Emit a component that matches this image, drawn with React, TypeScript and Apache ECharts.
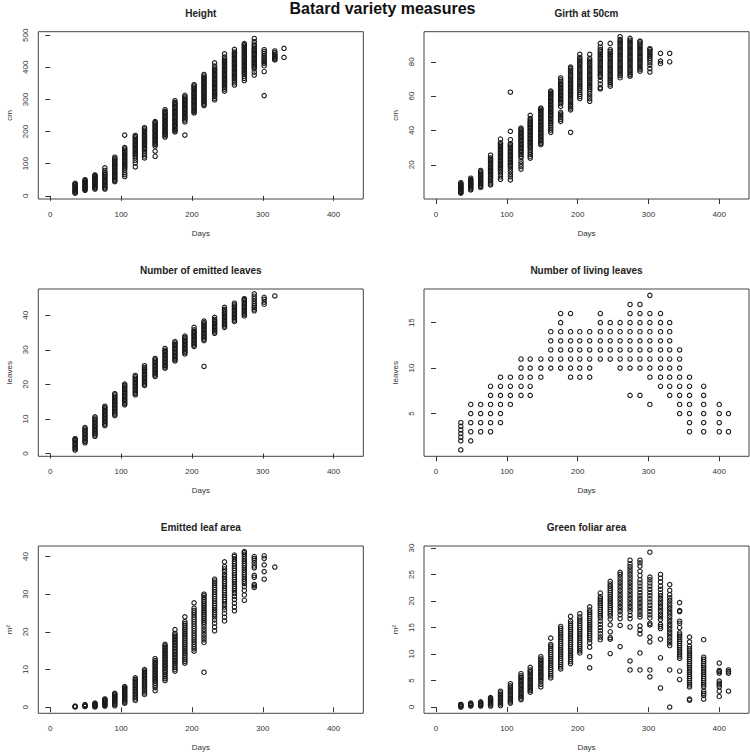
import React, { useEffect, useRef } from "react";
import * as echarts from "echarts";

const days = [35, 49, 63, 77, 91, 105, 120, 133, 148, 162, 176, 190, 203, 217, 232, 246, 260, 274, 288, 302, 317, 330, 344, 358, 378, 400, 413];

// Height (cm), one list per day
const heightCols = [
  [8, 10, 13, 16, 19, 22, 25, 28, 31, 34, 37, 39],
  [17, 20, 23, 26, 29, 32, 35, 38, 41, 44, 47, 50],
  [21, 24, 27, 30, 33, 36, 39, 42, 45, 48, 51, 54, 57, 60, 63, 65],
  [21, 24, 28, 32, 36, 40, 44, 48, 52, 56, 60, 64, 68, 72, 79, 87],
  [44, 48, 52, 56, 60, 64, 68, 72, 76, 80, 84, 88, 92, 96, 100, 104, 108, 112, 116, 120],
  [60, 66, 72, 80, 86, 90, 94, 98, 102, 106, 110, 114, 118, 122, 126, 130, 134, 138, 142, 146, 150, 189],
  [90, 102, 110, 118, 124, 128, 132, 136, 140, 144, 148, 152, 156, 160, 164, 168, 172, 176, 180, 184, 188],
  [118, 124, 130, 138, 144, 148, 152, 156, 160, 164, 168, 172, 176, 180, 184, 188, 192, 196, 200, 204, 208, 212],
  [123, 139, 155, 160, 164, 168, 172, 176, 180, 184, 188, 192, 196, 200, 204, 208, 212, 216, 220, 224, 228, 231],
  [183, 187, 191, 195, 199, 203, 207, 211, 215, 219, 223, 227, 231, 235, 239, 243, 247, 251, 255, 259, 263, 268],
  [199, 203, 207, 211, 215, 219, 223, 227, 231, 235, 239, 243, 247, 251, 255, 259, 263, 267, 271, 275, 279, 283, 287, 291, 296],
  [189, 230, 236, 240, 244, 248, 252, 256, 260, 264, 268, 272, 276, 280, 284, 288, 292, 296, 300, 304, 308, 313],
  [258, 262, 266, 270, 274, 278, 282, 286, 290, 294, 298, 302, 306, 310, 314, 318, 322, 326, 330, 334, 338, 342, 346],
  [281, 285, 289, 293, 297, 301, 305, 309, 313, 317, 321, 325, 329, 333, 337, 341, 345, 349, 353, 357, 361, 365, 369, 373, 378],
  [299, 304, 310, 314, 318, 322, 326, 330, 334, 338, 342, 346, 350, 354, 358, 362, 366, 370, 374, 378, 382, 386, 390, 394, 398, 404, 414],
  [326, 332, 337, 342, 346, 350, 354, 358, 362, 366, 370, 374, 378, 382, 386, 390, 394, 398, 402, 406, 410, 414, 418, 422, 426, 432, 442],
  [345, 352, 358, 364, 368, 372, 376, 380, 384, 388, 392, 396, 400, 404, 408, 412, 416, 420, 424, 428, 432, 436, 440, 444, 448, 456],
  [359, 366, 372, 378, 382, 386, 390, 394, 398, 402, 406, 410, 414, 418, 422, 426, 430, 434, 438, 442, 446, 450, 454, 458, 462, 466, 470, 474],
  [376, 385, 395, 400, 404, 408, 412, 416, 420, 424, 428, 432, 436, 440, 444, 448, 452, 456, 460, 466, 472, 480, 490],
  [312, 387, 405, 412, 417, 422, 427, 432, 437, 443, 449, 455],
  [423, 426, 429, 432, 435, 438, 441, 446, 451],
  [431, 459],
];

// Girth at 50cm (cm)
const girthCols = [
  [3.5, 4, 4.5, 5, 5.5, 6, 6.5, 7, 7.5, 8, 8.5, 9, 9.7],
  [5.4, 6, 6.6, 7.2, 7.8, 8.4, 9, 9.6, 10.2, 10.8, 11.4, 12.2],
  [6.8, 7.5, 8.2, 8.9, 9.6, 10.3, 11, 11.7, 12.4, 13.1, 13.8, 14.5, 15.2, 16, 16.7],
  [8.3, 9, 10, 11, 12, 12.8, 13.6, 14.4, 15.2, 16, 16.8, 17.6, 18.4, 19.2, 20, 20.8, 21.6, 22.4, 23.2, 24, 25.6],
  [11.6, 13, 14.5, 16, 17, 17.8, 18.6, 19.4, 20.2, 21, 21.8, 22.6, 23.4, 24.2, 25, 25.8, 26.6, 27.4, 28.2, 29, 29.8, 30.6, 31.4, 32.2, 32.7, 35],
  [11.2, 13, 14.5, 16, 17.5, 19, 19.8, 20.6, 21.4, 22.2, 23, 23.8, 24.6, 25.4, 26.2, 27, 27.8, 28.6, 29.4, 30.2, 31, 31.8, 32.3, 34.6, 39.5, 62.3],
  [17.5, 19, 20.5, 22, 24, 25, 26, 27, 27.8, 28.6, 29.4, 30.2, 31, 31.8, 32.6, 33.4, 34.2, 35, 35.8, 36.6, 37.4, 38.2, 39, 39.8, 40.6, 41.4],
  [23.9, 25, 26.2, 27.4, 28.6, 29.8, 30.6, 31.4, 32.2, 33, 33.8, 34.6, 35.4, 36.2, 37, 37.8, 38.6, 39.4, 40.2, 41, 41.8, 42.6, 43.4, 44.2, 45, 46, 47, 48.8],
  [31.7, 32.5, 33.3, 34.1, 34.9, 35.7, 36.5, 37.3, 38.1, 38.9, 39.7, 40.5, 41.3, 42.1, 42.9, 43.7, 44.5, 45.3, 46.1, 46.9, 47.7, 48.5, 49.3, 50.1, 50.9, 51.7, 52.5, 53],
  [38.9, 40.2, 41.5, 42.8, 44, 45, 46, 47, 48, 48.8, 49.6, 50.4, 51.2, 52, 52.8, 53.6, 54.4, 55.2, 56, 56.8, 57.6, 58.4, 59.2, 60, 60.8, 61.6, 62.4, 62.9],
  [45.3, 46.5, 47.5, 48.5, 49.5, 50.5, 54, 55.5, 56.3, 57.1, 57.9, 58.7, 59.5, 60.3, 61.1, 61.9, 62.7, 63.5, 64.3, 65.1, 65.9, 66.7, 67.5, 68.5, 69.5, 70.6],
  [38.9, 52, 53, 54, 55, 56, 57, 58, 59, 60, 61, 61.8, 62.6, 63.4, 64.2, 65, 65.8, 66.6, 67.4, 68.2, 69, 70, 71, 72, 73, 74, 75, 76, 76.9],
  [58.6, 59.8, 61, 62.2, 63.5, 64.5, 65.5, 66.5, 67.5, 68.5, 69.5, 70.5, 71.5, 72.5, 73.5, 74.5, 75.5, 76.5, 77.5, 78.5, 79.5, 80.5, 81.5, 82.5, 84.3],
  [57, 58.5, 60, 61.5, 63, 64, 65, 66, 67, 68, 69, 70, 71, 72, 73, 74, 75, 76, 77, 78, 79, 80, 81, 82, 84.3],
  [64.2, 65, 67, 69, 71, 72, 73, 74, 75, 76, 77, 78, 79, 80, 81, 82, 83, 84, 85, 86, 87, 88.5, 90.7],
  [65.8, 67, 68, 69, 70, 71, 72, 73, 74, 75, 76, 77, 78, 79, 80, 81, 82, 83, 84, 85, 86, 87, 90.7],
  [70.7, 72, 73, 74, 75, 76, 77, 78, 79, 80, 81, 82, 83, 84, 85, 86, 87, 88, 89, 90, 91, 92, 93, 94.6],
  [71.6, 72.5, 73.5, 74.5, 75.5, 76.5, 77.5, 78.5, 79.5, 80.5, 81.5, 82.5, 83.5, 84.5, 85.5, 86.5, 87.5, 88.5, 89.5, 90.5, 91.5, 92.5, 93.6],
  [74.5, 75.5, 76.5, 77.5, 78.5, 79.5, 80.5, 81.5, 82.5, 83.5, 84.5, 85.5, 86.5, 87.5, 88.5, 89.5, 90.5, 91.5, 92],
  [74, 76, 78, 79.5, 81, 82, 83, 84, 85, 86, 87, 87.6],
  [79, 80.4, 84.9],
  [80, 84.9],
];

// Number of emitted leaves
const emittedCols = [
  [1, 1.4, 1.8, 2.2, 2.6, 3, 3.4, 3.8, 4.1, 4.3],
  [3.1, 3.5, 3.9, 4.3, 4.7, 5.1, 5.5, 5.9, 6.3, 6.7, 7.1, 7.5],
  [5, 5.4, 5.8, 6.2, 6.6, 7, 7.4, 7.8, 8.2, 8.6, 9, 9.4, 9.8, 10.2, 10.6],
  [8.1, 8.5, 8.9, 9.3, 9.7, 10.1, 10.5, 10.9, 11.3, 11.7, 12.1, 12.5, 12.9, 13.3, 13.7],
  [11, 11.4, 11.8, 12.2, 12.6, 13, 13.4, 13.8, 14.2, 14.6, 15, 15.4, 15.8, 16.2, 16.6, 17, 17.3],
  [14.1, 14.5, 14.9, 15.3, 15.7, 16.1, 16.5, 16.9, 17.3, 17.7, 18.1, 18.5, 18.9, 19.3, 19.7, 20.1],
  [17, 17.4, 17.8, 18.2, 18.6, 19, 19.4, 19.8, 20.2, 20.6, 21, 21.4, 21.8, 22.2, 22.6],
  [19.7, 20.1, 20.5, 20.9, 21.3, 21.7, 22.1, 22.5, 22.9, 23.3, 23.7, 24.1, 24.5, 24.9, 25.4],
  [22.3, 22.7, 23.1, 23.5, 23.9, 24.3, 24.7, 25.1, 25.5, 25.9, 26.3, 26.7, 27.1, 27.5],
  [24.7, 25.1, 25.5, 25.9, 26.3, 26.7, 27.1, 27.5, 27.9, 28.3, 28.7, 29.1, 29.5, 29.9, 30.4],
  [26.8, 27.2, 27.6, 28, 28.4, 28.8, 29.2, 29.6, 30, 30.4, 30.8, 31.2, 31.6, 32, 32.4],
  [28.8, 29.2, 29.6, 30, 30.4, 30.8, 31.2, 31.6, 32, 32.4, 32.8, 33.2, 33.6, 34],
  [31, 31.4, 31.8, 32.2, 32.6, 33, 33.4, 33.8, 34.2, 34.6, 35, 35.4, 35.8, 36.5],
  [25.2, 32.7, 33.1, 33.5, 33.9, 34.3, 34.7, 35.1, 35.5, 35.9, 36.3, 36.7, 37.1, 37.5, 37.9, 38.3],
  [34.8, 35.2, 35.6, 36, 36.4, 36.8, 37.2, 37.6, 38, 38.4, 38.8, 39.4],
  [36.5, 36.9, 37.3, 37.7, 38.1, 38.5, 38.9, 39.3, 39.7, 40.1, 40.5, 40.9, 41.3, 41.7, 42.3],
  [38.2, 38.6, 39, 39.4, 39.8, 40.2, 40.6, 41, 41.4, 41.8, 42.2, 42.6, 43, 43.5],
  [39.8, 40.2, 40.6, 41, 41.4, 41.8, 42.2, 42.6, 43, 43.4, 43.8, 44.2, 44.5, 44.8],
  [41.3, 41.8, 42.3, 42.8, 43.4, 44.1, 44.8, 45.5, 46.2],
  [43.2, 43.8, 44.6, 45.2],
  [45.6],
];

// Number of living leaves
const livingCols = [
  [1, 2, 2.4, 2.8, 3.2, 3.6, 4],
  [2, 3, 4, 5, 6],
  [3, 4, 5, 6],
  [3, 4, 5, 6, 7, 8],
  [4, 5, 6, 7, 8, 9],
  [6, 7, 8, 9],
  [7, 8, 9, 10, 11],
  [7, 8, 9, 10, 11],
  [9, 10, 11],
  [10, 11, 12, 13, 14],
  [10, 11, 12, 13, 14, 15, 16],
  [9, 10, 11, 12, 13, 14, 16],
  [9, 10, 11, 12, 13, 14],
  [9, 10, 11, 12, 13, 14],
  [11, 12, 13, 14, 15, 16],
  [11, 12, 13, 14, 15],
  [10, 11, 12, 13, 14, 15],
  [7, 10, 11, 12, 13, 14, 15, 16, 17],
  [7, 10, 11, 12, 13, 14, 15, 16, 17],
  [6, 9, 10, 11, 12, 13, 14, 15, 16, 18],
  [8, 9, 10, 11, 12, 13, 14, 15, 16],
  [7, 8, 9, 10, 11, 12, 13, 14, 15],
  [5, 6, 7, 8, 9, 10, 11, 12],
  [3, 4, 5, 6, 7, 8, 9],
  [3, 4, 5, 6, 7, 8],
  [3, 4, 5, 6],
  [3, 5],
];

// Emitted leaf area (m²)
const emittedAreaCols = [
  [0.1, 0.2, 0.3],
  [0.2, 0.35, 0.5, 0.7],
  [0.1, 0.3, 0.5, 0.7, 0.9, 1.1],
  [0.3, 0.55, 0.8, 1.05, 1.3, 1.55, 1.8, 2, 2.2],
  [0.4, 0.8, 1.1, 1.4, 1.7, 2, 2.3, 2.6, 2.9, 3.2, 3.5, 3.7],
  [1.1, 1.4, 1.7, 2, 2.3, 2.6, 2.9, 3.2, 3.5, 3.8, 4.1, 4.4, 4.7, 5, 5.3, 5.5],
  [1.8, 2.2, 2.6, 3, 3.4, 3.8, 4.2, 4.6, 5, 5.4, 5.8, 6.2, 6.6, 7, 7.4, 7.8],
  [3.4, 3.8, 4.3, 4.8, 5.2, 5.6, 6, 6.4, 6.8, 7.2, 7.6, 8, 8.4, 8.8, 9.2, 9.6, 10],
  [4.4, 5.2, 5.8, 6.3, 6.8, 7.2, 7.6, 8, 8.4, 8.8, 9.2, 9.6, 10, 10.4, 10.8, 11.2, 11.6, 12, 12.4, 12.9],
  [7.1, 7.6, 8.1, 8.6, 9.1, 9.5, 9.9, 10.3, 10.7, 11.1, 11.5, 11.9, 12.3, 12.7, 13.1, 13.5, 13.9, 14.3, 14.7, 15.1, 15.5, 15.9, 16.3, 16.7],
  [9.6, 10.1, 10.6, 11.1, 11.6, 12, 12.4, 12.8, 13.2, 13.6, 14, 14.4, 14.8, 15.2, 15.6, 16, 16.4, 16.8, 17.2, 17.6, 18, 18.4, 18.8, 19.2, 19.6, 20.6],
  [11.7, 12.2, 12.7, 13.2, 13.7, 14.2, 14.7, 15.2, 15.7, 16.2, 16.7, 17.2, 17.7, 18.2, 18.7, 19.2, 19.7, 20.2, 20.7, 21.2, 21.7, 22.2, 22.7, 24],
  [14.9, 15.5, 16.1, 16.7, 17.3, 17.9, 18.5, 19.1, 19.7, 20.3, 20.9, 21.5, 22.1, 22.7, 23.3, 23.9, 24.5, 25.1, 25.7, 26.3, 27.7],
  [9.3, 17.2, 17.9, 18.6, 19.3, 20, 20.7, 21.4, 22.1, 22.6, 23.1, 23.6, 24.1, 24.6, 25.1, 25.6, 26.1, 26.6, 27.1, 27.6, 28.1, 28.6, 29.1, 29.6, 30],
  [20.3, 21.3, 22.3, 23.2, 24, 24.6, 25.2, 25.8, 26.4, 27, 27.6, 28.2, 28.8, 29.4, 30, 30.6, 31.2, 31.8, 32.4, 33, 33.5, 34],
  [22.9, 23.9, 24.9, 25.9, 26.6, 27.3, 28, 28.6, 29.2, 29.8, 30.4, 31, 31.6, 32.2, 32.8, 33.4, 34, 34.6, 35.2, 36, 36.7, 37.3, 38.6],
  [25.6, 26.6, 27.6, 28.6, 29.4, 30.2, 30.9, 31.5, 32.1, 32.7, 33.3, 33.9, 34.5, 35.1, 35.7, 36.3, 36.9, 37.5, 38.1, 38.7, 39.4, 40, 40.4],
  [28.4, 29.8, 31, 32, 32.8, 33.4, 34, 34.6, 35.2, 35.8, 36.4, 37, 37.6, 38.2, 38.8, 39.4, 40, 40.6, 41, 41.3],
  [31.8, 32.2, 32.6, 34.5, 35, 37, 37.5, 38.3, 39, 39.5, 40],
  [34, 36, 37.8, 39.5, 40.2],
  [37.2],
];

// Green foliar area (m²)
const greenAreaCols = [
  [0, 0.15, 0.3, 0.45, 0.5],
  [0.2, 0.35, 0.5, 0.65, 0.75],
  [0.2, 0.35, 0.5, 0.65, 0.8, 1],
  [0.2, 0.4, 0.6, 0.8, 1, 1.2, 1.4, 1.6, 1.8],
  [0.3, 0.6, 0.9, 1.2, 1.5, 1.8, 2.1, 2.4, 2.7, 3],
  [0.75, 1, 1.3, 1.6, 1.9, 2.2, 2.5, 2.8, 3.1, 3.4, 3.7, 4, 4.4],
  [1.4, 1.7, 2, 2.3, 2.6, 2.9, 3.2, 3.5, 3.8, 4.1, 4.4, 4.7, 5, 5.3, 5.6, 5.9, 6.3],
  [2.8, 3.1, 3.4, 3.7, 4, 4.3, 4.6, 4.9, 5.2, 5.5, 5.8, 6.1, 6.4, 6.7, 7, 7.5],
  [3.8, 4.3, 4.8, 5.2, 5.5, 5.8, 6.1, 6.4, 6.7, 7, 7.3, 7.6, 7.9, 8.2, 8.5, 8.8, 9.1, 9.5],
  [5.5, 5.9, 6.3, 6.7, 7.1, 7.5, 7.9, 8.3, 8.7, 9.1, 9.5, 9.9, 10.3, 10.7, 11.1, 11.5, 11.8, 13],
  [7.2, 7.6, 8, 8.4, 8.8, 9.2, 9.6, 10, 10.4, 10.8, 11.2, 11.6, 12, 12.4, 12.8, 13.2, 13.6, 14, 14.4, 14.8, 15.2],
  [8.2, 8.6, 9, 9.4, 9.8, 10.2, 10.6, 11, 11.4, 11.8, 12.2, 12.6, 13, 13.4, 13.8, 14.2, 14.6, 15, 15.4, 15.8, 16.2, 17.1],
  [10.2, 10.6, 11, 11.4, 11.8, 12.2, 12.6, 13, 13.4, 13.8, 14.2, 14.6, 15, 15.4, 15.8, 16.2, 16.6, 17, 17.6],
  [7.4, 9.5, 11.3, 12.1, 12.7, 13.1, 13.5, 13.9, 14.3, 14.7, 15.1, 15.5, 15.9, 16.3, 16.7, 17.1, 17.5, 17.9, 18.3, 18.9],
  [12.7, 13.2, 13.8, 14.4, 15, 15.6, 16.2, 16.8, 17.2, 17.6, 18, 18.4, 18.8, 19.2, 19.6, 20, 20.4, 20.8, 21.5],
  [10.1, 12.8, 13.1, 14.2, 15.5, 16.6, 17.2, 17.6, 18, 18.4, 18.8, 19.2, 19.6, 20, 20.4, 20.8, 21.2, 21.6, 22, 22.4, 22.8, 23.2, 23.7],
  [11.4, 15.4, 16.7, 17.4, 18, 18.5, 19, 19.5, 20, 20.5, 21, 21.5, 22, 22.5, 23, 23.5, 24, 24.5, 25, 25.4],
  [7, 8.7, 15.1, 16.7, 17.3, 18, 18.5, 19, 19.5, 20, 20.5, 21, 21.5, 22, 22.5, 23, 23.5, 24, 24.5, 25, 25.5, 26, 26.5, 27, 27.7],
  [7, 10.2, 13.8, 14.5, 15.3, 17, 17.5, 18, 18.5, 19, 19.5, 20, 20.5, 21, 21.6, 22.2, 22.8, 23.4, 24, 24.8, 25.6, 26.6, 27.2, 27.7],
  [5.7, 7, 12.3, 13.2, 15.5, 15.8, 16.8, 17.4, 18, 18.6, 19.2, 19.8, 20.4, 21, 21.6, 22.2, 22.8, 23.4, 24, 24.5, 29.2],
  [3.6, 9.3, 12.8, 14.8, 15.2, 15.6, 16.5, 17, 17.5, 18, 18.5, 19, 19.5, 20, 20.5, 21, 21.5, 22.2, 22.8, 23.6, 24.3, 25],
  [0, 7, 11.6, 12.1, 12.6, 13.1, 13.6, 14.1, 14.6, 15.1, 15.6, 16.1, 16.6, 17.1, 17.6, 18.1, 18.6, 19.1, 19.6, 20.1, 20.6, 21.2, 22, 23.1],
  [5.2, 6.8, 9.2, 9.6, 10, 10.4, 10.8, 11.2, 11.6, 12, 12.4, 12.8, 13.2, 13.6, 14, 15, 15.8, 16.2, 18, 18.2, 19.7],
  [1.3, 1.5, 3.8, 4.2, 4.6, 5, 5.4, 5.8, 6.2, 6.6, 7, 7.4, 7.8, 8.2, 8.6, 9, 9.4, 9.8, 10.2, 10.6, 11, 11.5, 12.3, 13.2],
  [1.5, 2.2, 2.6, 3, 3.8, 4.2, 4.6, 5, 5.4, 5.8, 6.2, 6.6, 7, 7.4, 7.8, 8.2, 8.6, 9, 9.4, 12.7],
  [2, 3, 3.8, 4.2, 4.5, 4.9, 6.4, 6.7, 6.9, 8.3],
  [3, 6.4, 6.7, 7],
];

const xTicks = [0, 100, 200, 300, 400];

const panels = [
  { title: "Height", ylab: "cm", cols: heightCols, ymin: -10, ymax: 511, yticks: [0, 100, 200, 300, 400, 500] },
  { title: "Girth at 50cm", ylab: "cm", cols: girthCols, ymin: 0.1, ymax: 97.5, yticks: [20, 40, 60, 80] },
  { title: "Number of emitted leaves", ylab: "leaves", cols: emittedCols, ymin: -0.8, ymax: 47.6, yticks: [0, 10, 20, 30, 40] },
  { title: "Number of living leaves", ylab: "leaves", cols: livingCols, ymin: 0.3, ymax: 18.7, yticks: [5, 10, 15] },
  { title: "Emitted leaf area", ylab: "m²", cols: emittedAreaCols, ymin: -1.6, ymax: 42.8, yticks: [0, 10, 20, 30, 40] },
  { title: "Green foliar area", ylab: "m²", cols: greenAreaCols, ymin: -1.17, ymax: 30.37, yticks: [0, 5, 10, 15, 20, 25, 30] },
];

const FONT = "'Liberation Sans', Arial, sans-serif";
const lefts = [38.3, 424];
const tops = [31.7, 289, 546];
const W = 325;
const H = 167.3;

export default function App() {
  const ref = useRef<HTMLDivElement>(null);
  useEffect(() => {
    if (!ref.current) return;
    const chart = echarts.init(ref.current, undefined, { renderer: "svg" });
    const grids: any[] = [];
    const xAxes: any[] = [];
    const yAxes: any[] = [];
    const series: any[] = [];
    const graphics: any[] = [
      {
        type: "text",
        x: 382.5,
        y: 8,
        style: { text: "Batard variety measures", font: `bold 16px ${FONT}`, fill: "#111", textAlign: "center", textVerticalAlign: "middle" },
      },
    ];
    panels.forEach((p, i) => {
      const left = lefts[i % 2];
      const top = tops[Math.floor(i / 2)];
      grids.push({ left, top, width: W, height: H, show: true, borderColor: "#444", borderWidth: 1, backgroundColor: "transparent", containLabel: false, outerBoundsMode: "none" });
      xAxes.push({
        gridIndex: i,
        type: "value",
        min: -17,
        max: 442,
        axisLine: { show: false },
        axisTick: { show: true, length: 5, customValues: xTicks, lineStyle: { color: "#333" } },
        axisLabel: { customValues: xTicks, fontSize: 8, fontFamily: FONT, color: "#333", margin: 11 },
        splitLine: { show: false },
        name: "Days",
        nameLocation: "middle",
        nameGap: 30,
        nameTextStyle: { fontSize: 8, fontFamily: FONT, color: "#333" },
      });
      yAxes.push({
        gridIndex: i,
        type: "value",
        min: p.ymin,
        max: p.ymax,
        axisLine: { show: false },
        axisTick: { show: true, length: 5, customValues: p.yticks, lineStyle: { color: "#333" } },
        axisLabel: { customValues: p.yticks, fontSize: 8, fontFamily: FONT, color: "#333", rotate: 90, margin: 9 },
        splitLine: { show: false },
        name: p.ylab,
        nameLocation: "middle",
        nameGap: 25,
        nameTextStyle: { fontSize: 8, fontFamily: FONT, color: "#333" },
      });
      const data: number[][] = [];
      p.cols.forEach((col, j) => col.forEach((v) => data.push([days[j], v])));
      series.push({
        type: "scatter",
        xAxisIndex: i,
        yAxisIndex: i,
        data,
        symbol: "circle",
        symbolSize: 4.4,
        silent: true,
        itemStyle: { color: "rgba(0,0,0,0)", borderColor: "#1a1a1a", borderWidth: 1.1, opacity: 1 },
      });
      graphics.push({
        type: "text",
        x: left + W / 2,
        y: top - 18.5,
        style: { text: p.title, font: `bold 10px ${FONT}`, fill: "#222", textAlign: "center", textVerticalAlign: "middle" },
      });
    });
    chart.setOption({
      animation: false,
      backgroundColor: "#fff",
      grid: grids,
      xAxis: xAxes,
      yAxis: yAxes,
      series,
      graphic: graphics,
    });
    return () => chart.dispose();
  }, []);
  return <div ref={ref} style={{ position: "absolute", left: 0, top: 0, width: 750, height: 753 }} />;
}
